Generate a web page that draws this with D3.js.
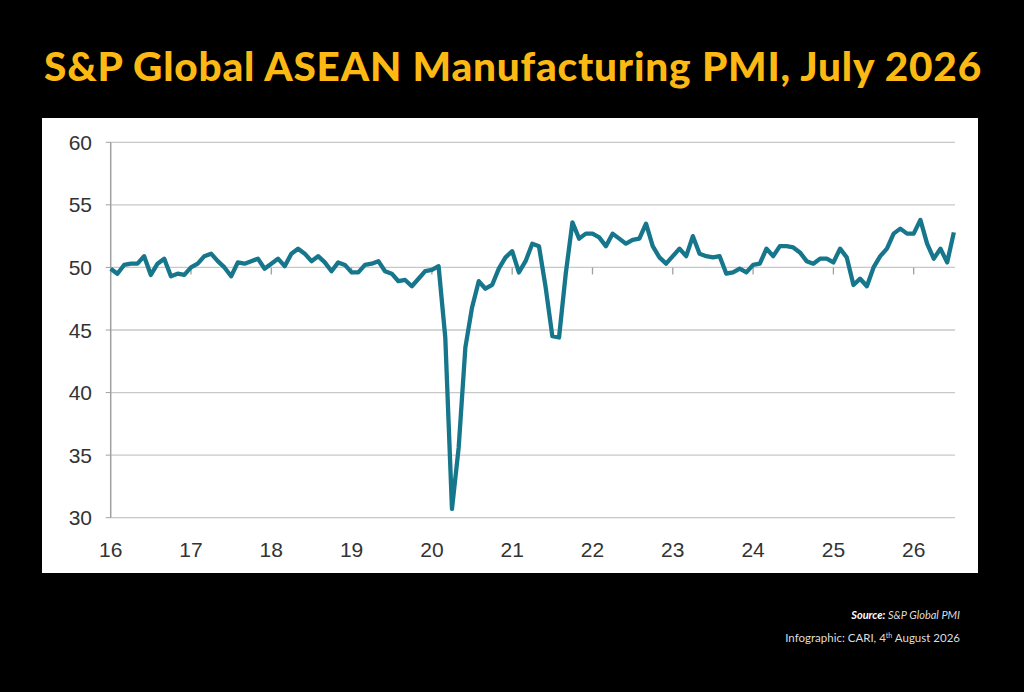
<!DOCTYPE html>
<html><head><meta charset="utf-8">
<script src="https://cdn.jsdelivr.net/npm/d3@7"></script>
<style>body{margin:0;background:#000}svg{display:block}</style>
</head><body><svg id="c" width="1024" height="692"></svg>
<script>
const startYear = 2016, startMonth = 0;
const pmi = [
49.9,49.5,50.2,50.3,50.3,50.9,49.4,50.3,50.7,49.3,49.5,49.4,
50.0,50.3,50.9,51.1,50.5,50.0,49.3,50.4,50.3,50.5,50.7,49.9,
50.3,50.7,50.1,51.1,51.5,51.1,50.5,50.9,50.4,49.7,50.4,50.2,
49.6,49.6,50.2,50.3,50.5,49.7,49.5,48.9,49.0,48.5,49.1,49.7,
49.8,50.1,44.4,30.7,35.6,43.6,46.8,48.9,48.3,48.6,49.9,50.8,
51.3,49.6,50.5,51.9,51.7,48.4,44.5,44.4,49.5,53.6,52.3,52.7,
52.7,52.4,51.7,52.7,52.3,51.9,52.2,52.3,53.5,51.7,50.8,50.3,
50.9,51.5,50.9,52.5,51.1,50.9,50.8,50.9,49.5,49.6,49.9,49.6,
50.2,50.3,51.5,50.9,51.7,51.7,51.6,51.2,50.5,50.3,50.7,50.7,
50.4,51.5,50.8,48.6,49.1,48.5,50.0,50.9,51.5,52.7,53.1,52.7,
52.7,53.8,51.9,50.7,51.5,50.4,52.8];
const yTicks = [30,35,40,45,50,55,60];
const xTickLabels = ["16","17","18","19","20","21","22","23","24","25","26"];

const svg = d3.select("#c");
svg.append("text").attr("x",513).attr("y",81).attr("text-anchor","middle")
  .attr("fill","#fdb913").attr("font-family","Lato").attr("font-weight",900)
  .attr("font-size",40).attr("letter-spacing",0.8).attr("textLength",938).attr("lengthAdjust","spacingAndGlyphs")
  .text("S&P Global ASEAN Manufacturing PMI, July 2026");
svg.append("rect").attr("x",42).attr("y",118).attr("width",936).attr("height",455).attr("fill","#fff");

const x = d3.scaleLinear().domain([0,12]).range([110.7,191]);
const y = d3.scaleLinear().domain([30,60]).range([517.7,142.3]);
const L = 110.7, R = 955;

const g = svg.append("g");
g.selectAll(".grid").data(yTicks).join("line")
  .attr("x1",L).attr("x2",R).attr("y1",d=>y(d)).attr("y2",d=>y(d))
  .attr("stroke","#c8c8c8").attr("stroke-width",1.3);
g.append("line").attr("x1",L).attr("x2",L).attr("y1",y(60)).attr("y2",y(30)).attr("stroke","#a0a0a0").attr("stroke-width",1.5);
g.selectAll(".yt").data(yTicks).join("line").attr("x1",L-5).attr("x2",L).attr("y1",d=>y(d)).attr("y2",d=>y(d)).attr("stroke","#a0a0a0");
g.selectAll(".xt").data(xTickLabels).join("line")
  .attr("x1",(d,i)=>x(i*12)).attr("x2",(d,i)=>x(i*12)).attr("y1",y(50)).attr("y2",y(50)+7)
  .attr("stroke","#a0a0a0").attr("stroke-width",1.3);
g.selectAll(".yl").data(yTicks).join("text").attr("x",92).attr("y",d=>y(d)+7.5)
  .attr("text-anchor","end").attr("font-family","Liberation Sans, Arial").attr("font-size",21).attr("fill","#333").text(d=>d);
g.selectAll(".xl").data(xTickLabels).join("text").attr("x",(d,i)=>x(i*12)).attr("y",557)
  .attr("text-anchor","middle").attr("font-family","Liberation Sans, Arial").attr("font-size",21).attr("fill","#333").text(d=>d);

g.append("path").datum(pmi).attr("fill","none").attr("stroke","#16768c").attr("stroke-width",4.3)
  .attr("stroke-linejoin","round")
  .attr("d",d3.line().x((d,i)=>x(i)).y(d=>y(d)));

const s = svg.append("text").attr("x",960).attr("y",619).attr("text-anchor","end")
  .attr("font-family","Lato").attr("font-size",11).attr("fill","#ddd").attr("font-style","italic");
s.append("tspan").attr("font-weight",700).attr("fill","#fff").text("Source:");
s.append("tspan").text(" S&P Global PMI");
const t = svg.append("text").attr("x",960).attr("y",642).attr("text-anchor","end")
  .attr("font-family","Lato").attr("font-size",11.5).attr("fill","#ddd");
t.append("tspan").text("Infographic: CARI, 4");
t.append("tspan").attr("font-size",7).attr("dy",-4).text("th");
t.append("tspan").attr("dy",4).text(" August 2026");
</script></body></html>
